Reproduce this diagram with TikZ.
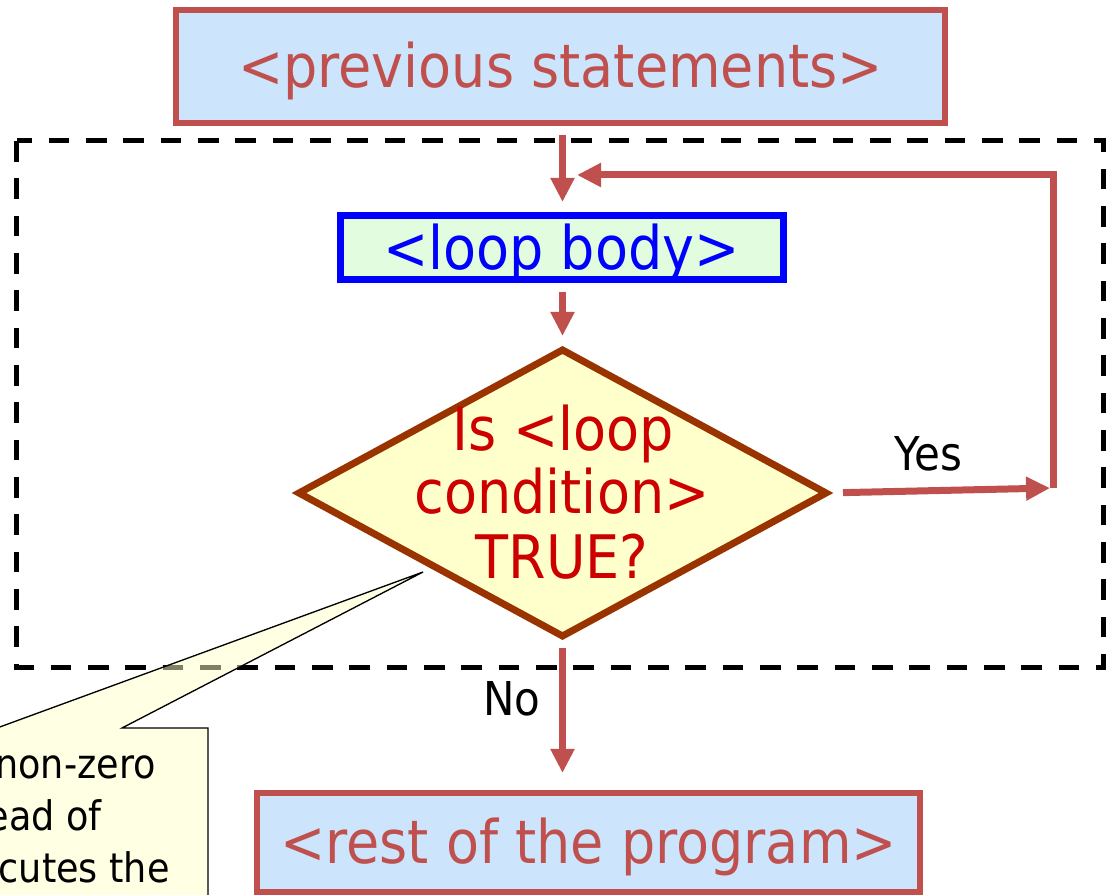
\documentclass[tikz,border=0pt]{standalone}
\usepackage{fontspec}
\setmainfont{DejaVu Sans}[FakeStretch=0.9]
\usetikzlibrary{arrows.meta,shapes.geometric,calc}
\definecolor{boxred}{RGB}{192,80,77}
\definecolor{boxfill}{RGB}{204,228,252}
\definecolor{bodyfill}{RGB}{226,252,224}
\definecolor{condfill}{RGB}{255,255,204}
\definecolor{condline}{RGB}{153,51,0}
\definecolor{condtext}{RGB}{204,0,0}
\definecolor{notefill}{RGB}{255,255,200}
\begin{document}
\begin{tikzpicture}[x=0.75pt,y=-0.75pt,
  bigtext/.style={font=\fontsize{45}{49}\selectfont},
  procbox/.style={draw=boxred,line width=4.5pt,fill=boxfill,text=boxred,bigtext,
    inner sep=0pt,outer sep=0pt,text height=32pt,text depth=0pt},
  bodybox/.style={draw=blue,line width=5.25pt,fill=bodyfill,text=blue,bigtext,
    inner sep=0pt,outer sep=0pt,text height=32pt,text depth=0pt},
  condbox/.style={diamond,draw=condline,line width=5.25pt,fill=condfill,
    inner sep=0pt,outer sep=0pt,minimum width=395.25pt,minimum height=214.5pt},
  condtxt/.style={text=condtext,bigtext,inner sep=0pt,anchor=base},
  flow/.style={draw=boxred,line width=5.25pt,line join=miter,
    -{Triangle[length=18pt,width=17pt]}},
  lbl/.style={font=\fontsize{35}{40}\selectfont,inner sep=0pt,anchor=base},
  notetxt/.style={font=\fontsize{30.5}{36}\selectfont,inner sep=0pt,anchor=base east},
  loopframe/.style={draw=black,line width=3.75pt,dash pattern=on 15.5pt off 12.5pt}
]
\useasboundingbox (0,0) rectangle (1108,895);
\clip (0,0) rectangle (1108,895);

% dashed loop frame
\draw[loopframe] (16.5,141) rectangle (1103.5,667);

% callout
\fill[notefill,fill opacity=0.5] (-30,728) -- (-3,728) -- (423,572) -- (122,728) -- (208,728) -- (208,920) -- (-30,920) -- cycle;
\draw[black,line width=1pt] (-30,728) -- (-3,728) -- (423,572) -- (122,728) -- (208,728) -- (208,920) -- (-30,920) -- cycle;
\node[notetxt] (n1) at (156,778) {non-zero};
\node[notetxt] (n2) at (102,830) {ead of};
\node[notetxt] (n3) at (170,882) {cutes the};

% nodes
\node[procbox,minimum width=576.75pt,minimum height=84.4pt] (prev) at (560.5,66.25) {<previous statements>};
\node[bodybox,minimum width=332.25pt,minimum height=48pt] (body) at (561.5,248) {<loop body>};
\node[condbox] (cond) at (562.5,493) {};
\node[condtxt] (c1) at (563,450) {Is <loop};
\node[condtxt] (c2) at (562,513) {condition>};
\node[condtxt] (c3) at (562,578) {TRUE?};
\node[procbox,minimum width=497.25pt,minimum height=73.9pt] (rest) at (588.5,842.25) {<rest of the program>};

% connectors
\draw[flow,shorten <=9.4pt,shorten >=10.5pt] (cond.north |- prev.south) -- (cond.north |- body.north);
\draw[flow,shorten <=9pt,shorten >=10.5pt] (cond.north |- body.south) -- (cond.north);

\coordinate (yc) at (1053.5,488);
\coordinate (rc) at (1053.5,175);
\coordinate (rt) at (577,175);
\draw[flow,shorten <=12.75pt,shorten >=2.6pt] (cond.east) -- (yc);
\draw[flow] (yc) -- (rc) -- (rt);
\draw[flow,shorten <=9pt,shorten >=15pt] (cond.south) -- (cond.south |- rest.north);

\node[lbl] (yes) at (928,470) {Yes};
\node[lbl] (no) at (512,715) {No};
\end{tikzpicture}
\end{document}
